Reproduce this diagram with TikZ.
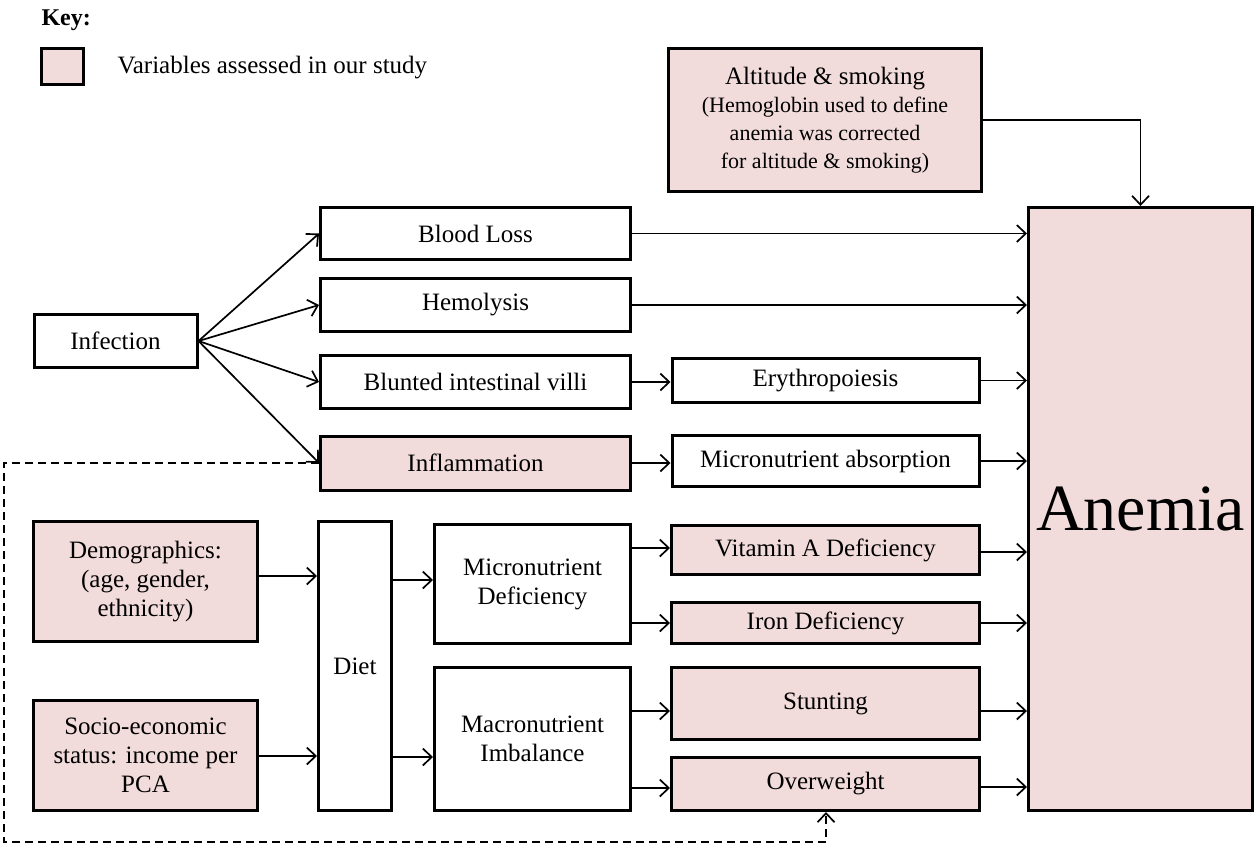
\documentclass[tikz,border=0pt]{standalone}
\usepackage{fontspec}
\setmainfont{Liberation Serif}
\usetikzlibrary{arrows.meta}
\definecolor{pinkfill}{RGB}{242,220,219}
\begin{document}
\begin{tikzpicture}[x=1pt,y=-1pt,
  box/.style={draw=black,line width=3pt,rectangle,inner sep=0pt,align=center,font=\fontsize{25}{29}\selectfont},
  pbox/.style={box,fill=pinkfill},
  arr/.style={line width=1.7pt,-{Straight Barb[length=9pt,width=17pt,line width=1.7pt]}},
  dasharr/.style={arr,dash pattern=on 8pt off 5pt}]
\useasboundingbox[fill=white] (0,0) rectangle (1257,846);

% key
\node[anchor=west,font=\fontsize{24}{28}\selectfont\bfseries] (keylabel) at (38,20) {Key:};
\node[pbox,minimum width=42pt,minimum height=36pt] (keybox) at (62.5,66) {};
\node[anchor=west,font=\fontsize{25}{29}\selectfont] (keytext) at (114,68) {Variables assessed in our study};

% top
\node[pbox,minimum width=313pt,minimum height=143pt,font=\fontsize{22}{28}\selectfont] (alt) at (825,120)
  {{\fontsize{25}{29}\selectfont Altitude \& smoking}\\(Hemoglobin used to define\\anemia was corrected\\for altitude \& smoking)};
\node[pbox,minimum width=224pt,minimum height=603pt,font=\fontsize{66}{70}\selectfont] (anemia) at (1140.5,509) {\raisebox{-5pt}{Anemia}};

\node[box,minimum width=163pt,minimum height=53pt] (infection) at (115.5,341) {Infection};
\node[box,minimum width=310pt,minimum height=52pt] (blood) at (475.5,233.5) {Blood Loss};
\node[box,minimum width=310pt,minimum height=53pt] (hemolysis) at (475.5,305) {Hemolysis};
\node[box,minimum width=310pt,minimum height=53pt] (blunted) at (475.5,382) {Blunted intestinal villi};
\node[pbox,minimum width=310pt,minimum height=54pt] (inflam) at (475.5,463) {Inflammation};
\node[box,minimum width=307pt,minimum height=44pt] (erythro) at (825.5,380.5) {Erythropoiesis};
\node[box,minimum width=307pt,minimum height=51pt] (microabs) at (825.5,461) {Micronutrient absorption};

% bottom
\node[pbox,minimum width=224pt,minimum height=120pt] (demog) at (145.5,581.5) {Demographics:\\(age, gender,\\ethnicity)};
\node[pbox,minimum width=224pt,minimum height=110pt] (socio) at (145.5,755.5) {Socio-economic\\status: income per\\PCA};
\node[box,minimum width=73pt,minimum height=289pt] (diet) at (355,666) {Diet};
\node[box,minimum width=196pt,minimum height=119pt] (micro) at (532.5,584) {Micronutrient\\Deficiency};
\node[box,minimum width=196pt,minimum height=143pt] (macro) at (532.5,739) {Macronutrient\\Imbalance};
\node[pbox,minimum width=308pt,minimum height=49pt] (vita) at (825.5,550) {Vitamin A Deficiency};
\node[pbox,minimum width=308pt,minimum height=41pt] (iron) at (825.5,623) {Iron Deficiency};
\node[pbox,minimum width=308pt,minimum height=72pt] (stunting) at (825.5,703.5) {Stunting};
\node[pbox,minimum width=308pt,minimum height=53pt] (overweight) at (825.5,784) {Overweight};

% connectors
\draw[arr] (alt.east) -| (anemia.north);
\draw[arr] (infection.east) -- (blood.west);
\draw[arr] (infection.east) -- (hemolysis.west);
\draw[arr] (infection.east) -- (blunted.west);
\draw[arr] (infection.east) -- (inflam.west);
\draw[arr] (blood.east) -- (blood.east -| anemia.west);
\draw[arr] (hemolysis.east) -- (hemolysis.east -| anemia.west);
\draw[arr] (blunted.east) -- (blunted.east -| erythro.west);
\draw[arr] (erythro.east) -- (erythro.east -| anemia.west);
\draw[arr] (inflam.east) -- (inflam.east -| microabs.west);
\draw[arr] (microabs.east) -- (microabs.east -| anemia.west);

\draw[arr] (demog.east |- 0,576) -- (diet.west |- 0,576);
\draw[arr] (socio.east |- 0,756) -- (diet.west |- 0,756);
\draw[arr] (diet.east |- 0,580) -- (micro.west |- 0,580);
\draw[arr] (diet.east |- 0,757) -- (macro.west |- 0,757);
\draw[arr] (micro.east |- 0,548) -- (vita.west |- 0,548);
\draw[arr] (micro.east |- 0,623) -- (iron.west |- 0,623);
\draw[arr] (macro.east |- 0,711) -- (stunting.west |- 0,711);
\draw[arr] (macro.east |- 0,788) -- (overweight.west |- 0,788);
\draw[arr] (vita.east |- 0,552) -- (anemia.west |- 0,552);
\draw[arr] (iron.east) -- (iron.east -| anemia.west);
\draw[arr] (stunting.east |- 0,711) -- (anemia.west |- 0,711);
\draw[arr] (overweight.east |- 0,787) -- (anemia.west |- 0,787);

% dashed feedback
\coordinate (d1) at (4,463);
\coordinate (d2) at (4,842);
\coordinate (d3) at (826,842);
\draw[dasharr] (inflam.west) -- (d1) -- (d2) -- (d3) -- (d3 |- overweight.south);
\end{tikzpicture}
\end{document}
